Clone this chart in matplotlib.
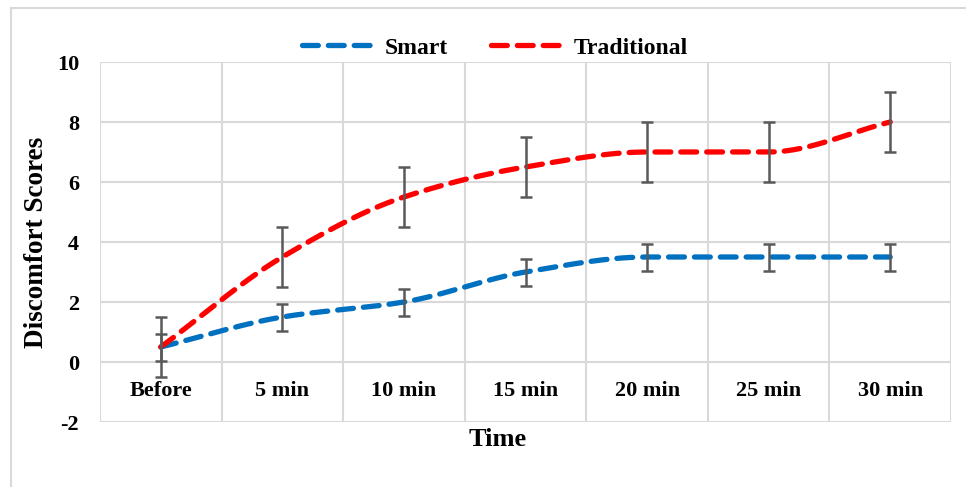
import numpy as np
import matplotlib
matplotlib.use("Agg")
import matplotlib.pyplot as plt
from matplotlib.lines import Line2D

# --- data ---
categories = ["Before", "5 min", "10 min", "15 min", "20 min", "25 min", "30 min"]
smart = [0.5, 1.5, 2.0, 3.0, 3.5, 3.5, 3.5]
smart_err = [0.45, 0.45, 0.45, 0.45, 0.45, 0.45, 0.45]
traditional = [0.5, 3.5, 5.5, 6.5, 7.0, 7.0, 8.0]
trad_err = [1.0, 1.0, 1.0, 1.0, 1.0, 1.0, 1.0]
yticks = [-2, 0, 2, 4, 6, 8, 10]

BLUE = "#0070C0"
RED = "#FF0000"
GRID = "#D9D9D9"
ERR = "#595959"

plt.rcParams["font.family"] = ["Liberation Serif", "DejaVu Serif"]
plt.rcParams["font.weight"] = "bold"


def smooth(xs, ys, n=30):
    # smoothed line through the points (monotone cubic, flat where data is flat)
    xs = np.asarray(xs, float)
    ys = np.asarray(ys, float)
    d = np.diff(ys) / np.diff(xs)
    m = np.zeros_like(ys)
    m[0], m[-1] = d[0], d[-1]
    for i in range(1, len(ys) - 1):
        if d[i - 1] * d[i] > 0:
            m[i] = 2 / (1 / d[i - 1] + 1 / d[i])
    outx, outy = [], []
    t = np.linspace(0, 1, n)
    for i in range(len(xs) - 1):
        h = xs[i + 1] - xs[i]
        h00 = 2 * t ** 3 - 3 * t ** 2 + 1
        h10 = t ** 3 - 2 * t ** 2 + t
        h01 = -2 * t ** 3 + 3 * t ** 2
        h11 = t ** 3 - t ** 2
        seg = h00 * ys[i] + h10 * h * m[i] + h01 * ys[i + 1] + h11 * h * m[i + 1]
        sx = xs[i] + t * h
        outx.extend(sx if i == 0 else sx[1:])
        outy.extend(seg if i == 0 else seg[1:])
    return np.array(outx), np.array(outy)


fig = plt.figure(figsize=(9.66, 4.87), dpi=100)
ax = fig.add_axes([100 / 966, 65 / 487, 851 / 966, 360 / 487])

# outer chart border
fig.add_artist(Line2D([11 / 966, 1.0], [1 - 8 / 487, 1 - 8 / 487],
                      color=GRID, lw=1.5, transform=fig.transFigure))
fig.add_artist(Line2D([11 / 966, 11 / 966], [0, 1 - 8 / 487],
                      color=GRID, lw=1.5, transform=fig.transFigure))

x = np.arange(len(categories))
ax.set_xlim(-0.5, len(categories) - 0.5)
ax.set_ylim(-2, 10)

for yv in yticks:
    ax.axhline(yv, color=GRID, lw=1.5, zorder=0)
for xv in np.arange(-0.5, len(categories), 1.0):
    ax.axvline(xv, color=GRID, lw=1.5, zorder=0)

for vals, errs, col, name in ((smart, smart_err, BLUE, "Smart"),
                              (traditional, trad_err, RED, "Traditional")):
    sx, sy = smooth(x, vals)
    ax.plot(sx, sy, color=col, lw=3.8, dashes=(3.0, 1.9),
            dash_capstyle="round", label=name, zorder=3)
    ax.errorbar(x, vals, yerr=errs, fmt="none", ecolor=ERR, elinewidth=1.8,
                capsize=4.5, capthick=1.8, zorder=4)

for s in ax.spines.values():
    s.set_visible(False)
ax.spines["bottom"].set_position(("data", 0))
ax.set_xticks(x)
ax.set_xticklabels(categories, fontsize=16, fontweight="bold")
ax.set_yticks(yticks)
ax.set_yticklabels([str(v) for v in yticks], fontsize=16, fontweight="bold")
ax.tick_params(axis="x", length=0, pad=14)
ax.tick_params(axis="y", length=0, pad=15)

ax.set_ylabel("Discomfort Scores", fontsize=19.5, fontweight="bold", labelpad=6)
fig.text(498 / 966, 1 - 440 / 487, "Time", fontsize=19, fontweight="bold",
         ha="center", va="center")

leg = ax.legend(loc="lower center", bbox_to_anchor=((495 - 100) / 851, 0.983),
                ncol=2, frameon=False, prop={"size": 17, "weight": "bold"},
                handlelength=3.0, columnspacing=1.8, handletextpad=0.5,
                borderaxespad=0.0)

fig.savefig("out.png", dpi=100)
